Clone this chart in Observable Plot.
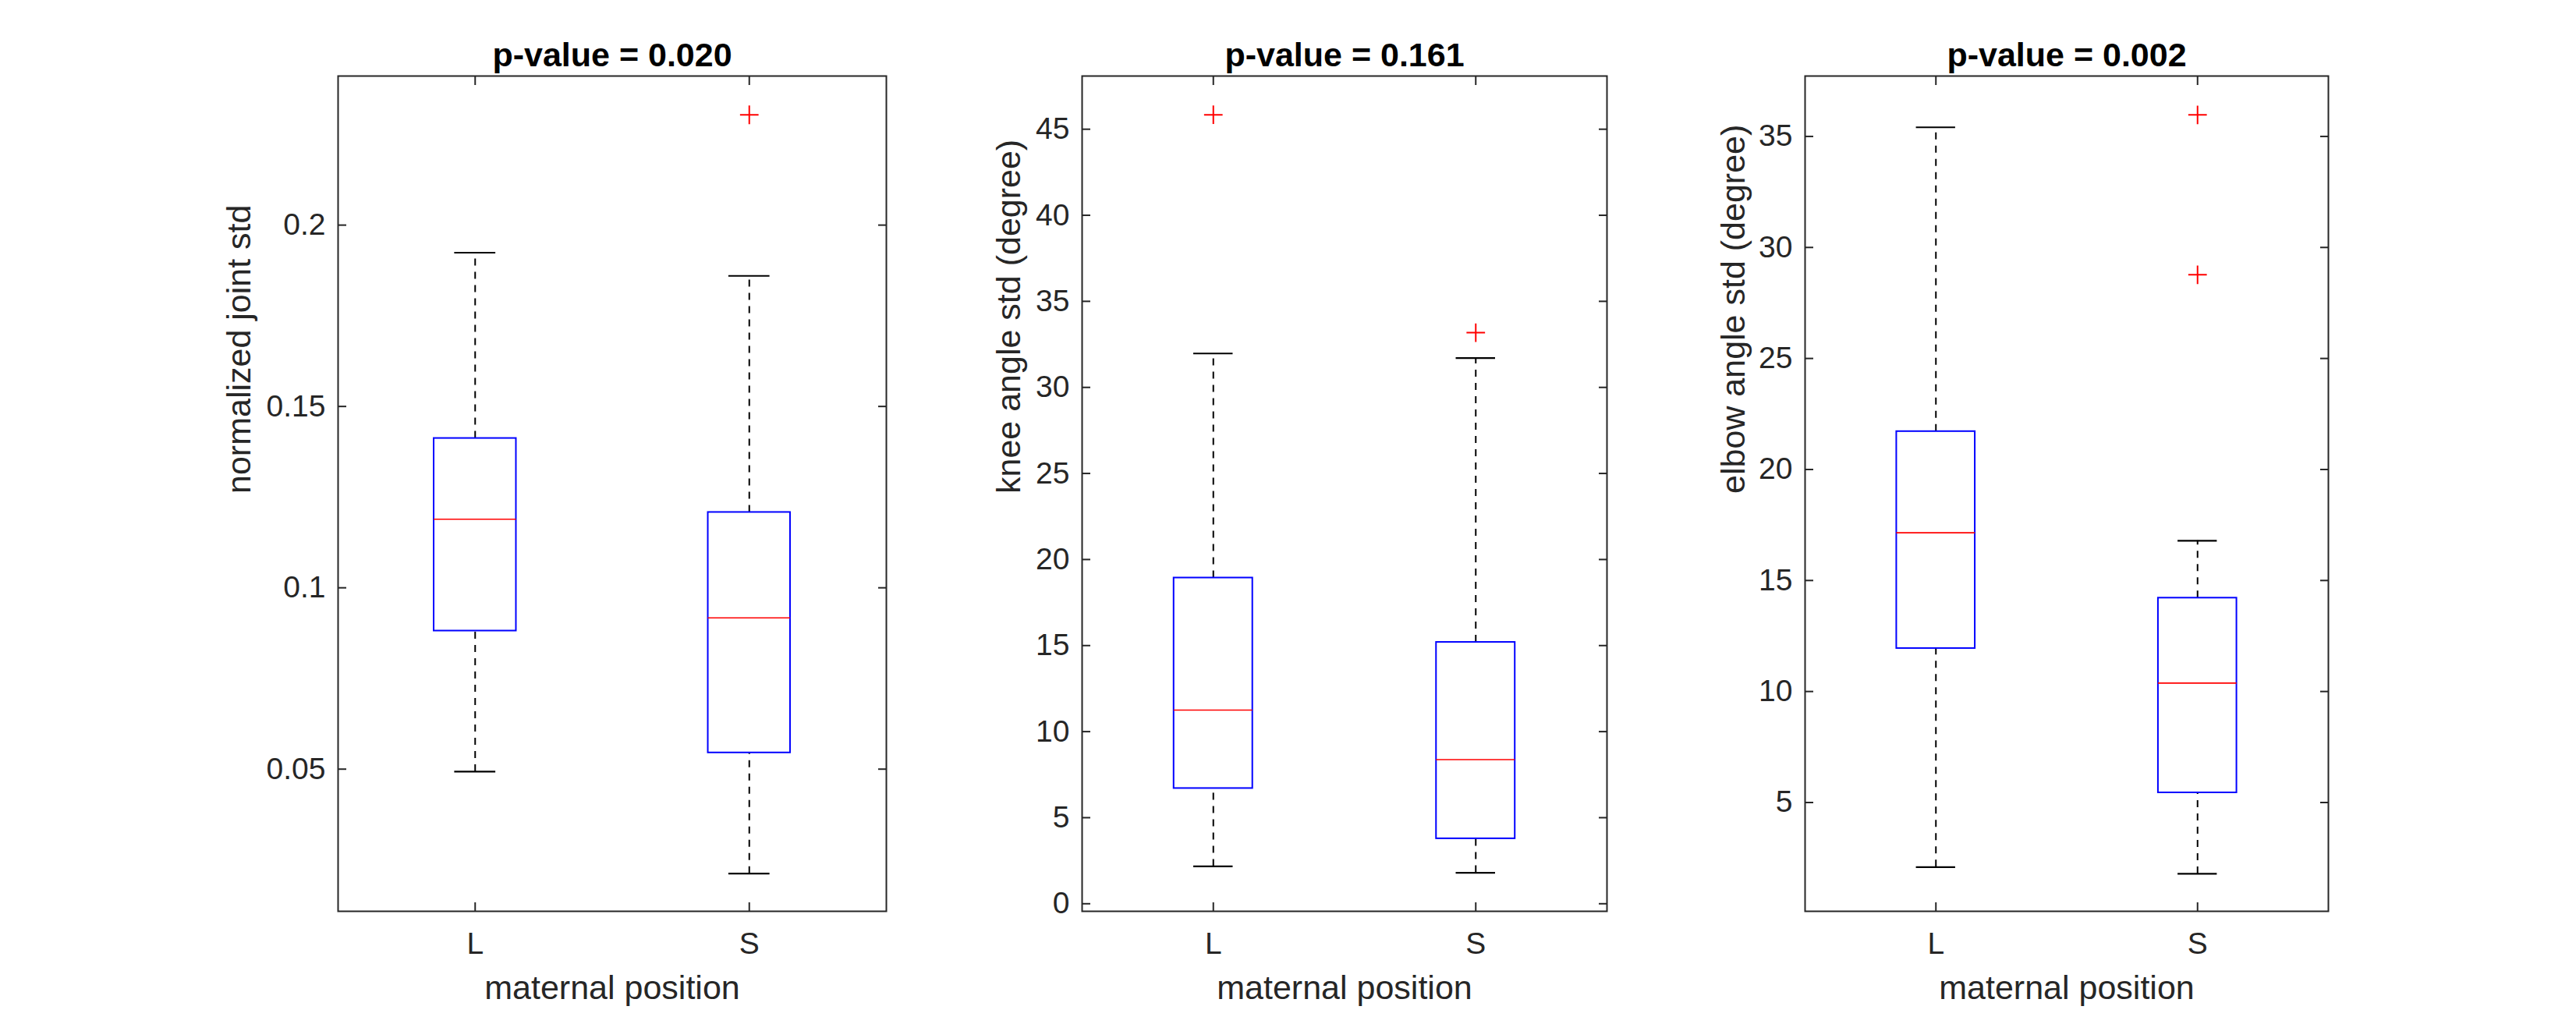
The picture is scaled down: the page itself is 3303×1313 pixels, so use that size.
<!DOCTYPE html>
<html>
<head>
<meta charset="utf-8">
<script src="https://cdn.jsdelivr.net/npm/d3@7"></script>
<script src="https://cdn.jsdelivr.net/npm/@observablehq/plot@0.6"></script>
<style>
html, body { margin: 0; padding: 0; background: #ffffff; }
#fig { position: relative; width: 3303px; height: 1313px; overflow: hidden; background: #ffffff; }
#fig svg { position: absolute; top: 0; }
</style>
</head>
<body>
<div id="fig"></div>
<script>
// ---------------- data ----------------
const categories = ["L", "S"];
const xLabel = "maternal position";
const titles = ["p-value = 0.020", "p-value = 0.161", "p-value = 0.002"];
const yLabels = ["normalized joint std", "knee angle std (degree)", "elbow angle std (degree)"];

// normalized joint std
const jointLow    = [0.0493, 0.0212];
const jointQ1     = [0.0881, 0.0545];
const jointMedian = [0.1189, 0.0917];
const jointQ3     = [0.1412, 0.1208];
const jointHigh   = [0.1924, 0.1860];
const jointOutCat = ["S"];
const jointOutVal = [0.2304];
const jointDomain = [0.0108, 0.2411];
const jointTicks  = [0.05, 0.1, 0.15, 0.2];

// knee angle std
const kneeLow    = [2.17, 1.80];
const kneeQ1     = [6.70, 3.78];
const kneeMedian = [11.25, 8.37];
const kneeQ3     = [18.93, 15.19];
const kneeHigh   = [31.97, 31.70];
const kneeOutCat = ["L", "S"];
const kneeOutVal = [45.84, 33.18];
const kneeDomain = [-0.44, 48.09];
const kneeTicks  = [0, 5, 10, 15, 20, 25, 30, 35, 40, 45];

// elbow angle std
const elbowLow    = [2.09, 1.79];
const elbowQ1     = [11.94, 5.44];
const elbowMedian = [17.15, 10.38];
const elbowQ3     = [21.71, 14.21];
const elbowHigh   = [35.41, 16.79];
const elbowOutCat = ["S", "S"];
const elbowOutVal = [35.97, 28.77];
const elbowDomain = [0.10, 37.72];
const elbowTicks  = [5, 10, 15, 20, 25, 30, 35];

// ---------------- layout ----------------
const layout = [
  {left: 433,  right: 1136, ylabelDx: -113},
  {left: 1387, right: 2060, ylabelDx: -80},
  {left: 2314, right: 2985, ylabelDx: -78}
];
const marginLeft = 200, marginRight = 40, marginTop = 97, marginBottom = 145, H = 1313;
const boxHalf = 0.15, capHalf = 0.075;
const axisColor = "#262626";
const font = "'Liberation Sans', Arial, Helvetica, sans-serif";

function makeStats(lo, q1, med, q3, hi) {
  return categories.map((c, i) => ({cat: c, pos: i + 1, lo: lo[i], q1: q1[i], med: med[i], q3: q3[i], hi: hi[i]}));
}
function makeOut(cats, vals) {
  return cats.map((c, i) => ({pos: categories.indexOf(c) + 1, value: vals[i]}));
}

const panels = [
  {stats: makeStats(jointLow, jointQ1, jointMedian, jointQ3, jointHigh), out: makeOut(jointOutCat, jointOutVal), domain: jointDomain, ticks: jointTicks},
  {stats: makeStats(kneeLow, kneeQ1, kneeMedian, kneeQ3, kneeHigh), out: makeOut(kneeOutCat, kneeOutVal), domain: kneeDomain, ticks: kneeTicks},
  {stats: makeStats(elbowLow, elbowQ1, elbowMedian, elbowQ3, elbowHigh), out: makeOut(elbowOutCat, elbowOutVal), domain: elbowDomain, ticks: elbowTicks}
];

const fig = document.getElementById("fig");

panels.forEach((p, k) => {
  const L = layout[k];
  const w = L.right - L.left;
  const chart = Plot.plot({
    width: marginLeft + w + marginRight,
    height: H,
    marginLeft, marginRight, marginTop, marginBottom,
    x: {domain: [0.5, categories.length + 0.5]},
    y: {domain: p.domain},
    style: {fontFamily: font, fontSize: "39px", color: axisColor, background: "transparent", overflow: "visible"},
    marks: [
      // whiskers (dashed)
      Plot.ruleX(p.stats, {x: "pos", y1: "q3", y2: "hi", stroke: "#000", strokeWidth: 2, strokeDasharray: "9,8"}),
      Plot.ruleX(p.stats, {x: "pos", y1: "lo", y2: "q1", stroke: "#000", strokeWidth: 2, strokeDasharray: "9,8"}),
      // whisker caps
      Plot.ruleY(p.stats, {y: "hi", x1: d => d.pos - capHalf, x2: d => d.pos + capHalf, stroke: "#000", strokeWidth: 2.2}),
      Plot.ruleY(p.stats, {y: "lo", x1: d => d.pos - capHalf, x2: d => d.pos + capHalf, stroke: "#000", strokeWidth: 2.2}),
      // boxes
      Plot.rect(p.stats, {x1: d => d.pos - boxHalf, x2: d => d.pos + boxHalf, y1: "q1", y2: "q3", fill: "#fff", stroke: "#0000ff", strokeWidth: 2}),
      // medians
      Plot.ruleY(p.stats, {y: "med", x1: d => d.pos - boxHalf, x2: d => d.pos + boxHalf, stroke: "#ff0000", strokeWidth: 1.6}),
      // outliers
      Plot.dot(p.out, {x: "pos", y: "value", symbol: "plus", r: 7.7, stroke: "#ff0000", strokeWidth: 2}),
      // frame and axes
      Plot.frame({stroke: axisColor, strokeWidth: 2}),
      Plot.axisY({anchor: "left", ticks: p.ticks, tickFormat: d => String(d), tickSize: -11, tickPadding: 27, strokeWidth: 2, label: null, fill: axisColor}),
      Plot.axisY({anchor: "right", ticks: p.ticks, tickFormat: () => "", tickSize: -11, strokeWidth: 2, label: null}),
      Plot.axisX({anchor: "bottom", ticks: categories.map((c, i) => i + 1), tickFormat: d => categories[d - 1], tickSize: -11, tickPadding: 38, strokeWidth: 2, label: null, fill: axisColor}),
      Plot.axisX({anchor: "top", ticks: categories.map((c, i) => i + 1), tickFormat: () => "", tickSize: -11, strokeWidth: 2, label: null}),
      // title and axis labels
      Plot.text([titles[k]], {text: d => d, frameAnchor: "top", dy: -13, lineAnchor: "bottom", fontSize: 43, fontWeight: "bold", fill: "#000"}),
      Plot.text([xLabel], {text: d => d, frameAnchor: "bottom", dy: 112, lineAnchor: "bottom", fontSize: 43, fill: axisColor}),
      Plot.text([yLabels[k]], {text: d => d, frameAnchor: "left", dx: L.ylabelDx, rotate: -90, lineAnchor: "bottom", fontSize: 43, fill: axisColor})
    ]
  });
  chart.style.left = (L.left - marginLeft) + "px";
  fig.appendChild(chart);
});
</script>
</body>
</html>
